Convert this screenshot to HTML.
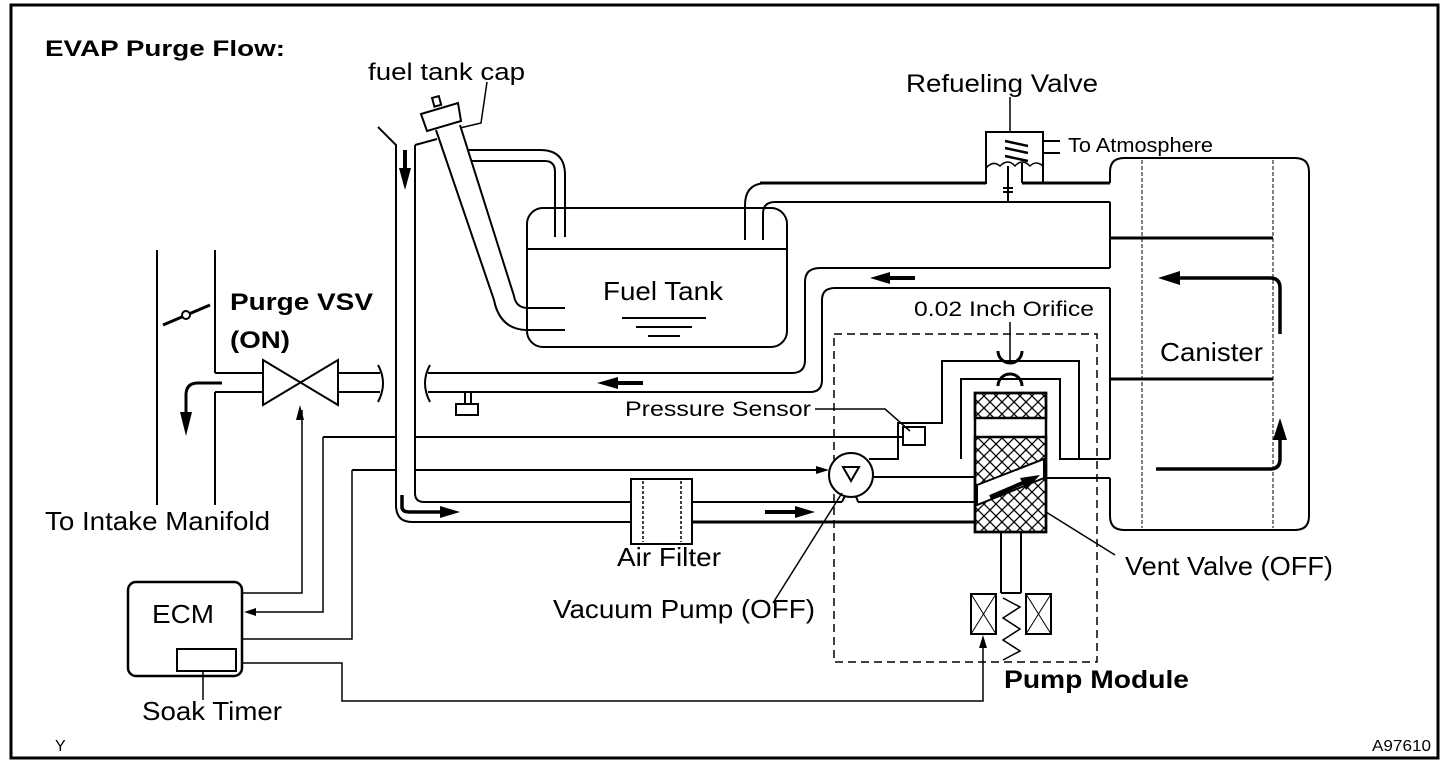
<!DOCTYPE html>
<html><head><meta charset="utf-8"><style>
html,body{margin:0;padding:0;background:#fff;}
svg{display:block;}
text{font-family:"Liberation Sans",sans-serif;fill:#000;}
</style></head><body>
<svg width="1456" height="772" viewBox="0 0 1456 772" xmlns="http://www.w3.org/2000/svg">
<rect x="0" y="0" width="1456" height="772" fill="#fff"/>
<rect x="11" y="5" width="1427" height="753" fill="none" stroke="#000" stroke-width="3"/>

<g fill="none" stroke="#000" stroke-width="2">
<line x1="157" y1="250" x2="157" y2="505"/>
<line x1="215" y1="250" x2="215" y2="373"/>
<line x1="215" y1="392" x2="215" y2="505"/>
<line x1="163" y1="325" x2="210" y2="305" stroke-width="3"/>
<circle cx="186" cy="315" r="4" fill="#fff"/>
<line x1="215" y1="373" x2="263" y2="373"/>
<line x1="215" y1="392" x2="263" y2="392"/>
<polygon points="263,360 338,405 338,360 263,405" fill="#fff"/>
<line x1="338" y1="373" x2="380" y2="373"/>
<line x1="338" y1="392" x2="380" y2="392"/>
<path d="M378,365 Q388,383 378,402"/>
<path d="M430,365 Q420,383 430,402"/>
<path d="M428,373 H792 Q805,373 805,360 V282 Q805,268 820,268 H1110"/>
<path d="M428,392 H810 Q822,392 822,380 V300 Q822,288 835,288 H1110"/>
<line x1="465" y1="392" x2="465" y2="404"/>
<line x1="471" y1="392" x2="471" y2="404"/>
<rect x="456" y="404" width="22" height="11"/>

<path d="M378,127 L396,145 V505 Q396,522 412,522 H631"/>
<path d="M415,145 L437,139"/>
<path d="M415,145 V493 Q415,502 424,502 H631"/>
<rect x="631" y="479" width="61" height="65" fill="#fff"/>
<line x1="643" y1="481" x2="643" y2="542" stroke-dasharray="3,2" stroke-width="1.5"/>
<line x1="681" y1="481" x2="681" y2="542" stroke-dasharray="3,2" stroke-width="1.5"/>
<line x1="692" y1="502" x2="842" y2="502"/>
<path d="M842,502 Q845,494 850,494"/>
<path d="M858,502 Q856,494 851,494"/>
<line x1="858" y1="502" x2="975" y2="502"/>
<line x1="692" y1="522" x2="975" y2="522" stroke-width="3"/>

<rect x="527" y="208" width="260" height="139" rx="16"/>
<line x1="527" y1="249" x2="787" y2="249"/>
<line x1="622" y1="318" x2="706" y2="318"/>
<line x1="636" y1="327" x2="692" y2="327"/>
<line x1="648" y1="336" x2="680" y2="336"/>
<path d="M565,237 V175 Q565,150 540,150 H467"/>
<path d="M555,237 V172 Q555,161 545,161 H472"/>
<path d="M745,240 V205 Q745,183 767,183 H986"/>
<path d="M763,240 V214 Q763,202 775,202 H1110"/>
<path d="M436,130 L494,300 Q500,330 528,330 H565"/>
<path d="M460,125 L514,296 Q516,308 528,308 H565"/>
<polygon points="421,114 458,103 461,121 427,131" fill="#fff"/>
<rect x="433" y="97" width="7" height="9" transform="rotate(-15 436 101)" fill="#fff"/>
<path d="M460,128 L481,123 L487,82" stroke-width="1.5"/>

<path d="M760,183 H986 V132 H1043 V182" stroke-width="2"/>
<line x1="760" y1="183" x2="986" y2="183" stroke-width="3"/>
<line x1="1022" y1="183" x2="1110" y2="183" stroke-width="3"/>
<line x1="1022" y1="163" x2="1022" y2="183"/>
<line x1="1010" y1="132" x2="1010" y2="97" stroke-width="1.5"/>
<line x1="1043" y1="141" x2="1060" y2="141"/>
<line x1="1043" y1="153" x2="1060" y2="153"/>
<line x1="1005" y1="141" x2="1028" y2="146" stroke-width="2.5"/>
<line x1="1005" y1="148" x2="1028" y2="153" stroke-width="2.5"/>
<line x1="1005" y1="156" x2="1028" y2="161" stroke-width="2.5"/>
<path d="M986,168 Q993,160 1000,166 Q1008,158 1015,166 Q1022,158 1030,166 Q1036,160 1043,166" stroke-width="1.5"/>
<line x1="1008" y1="166" x2="1008" y2="202"/>
<line x1="1003" y1="188" x2="1013" y2="188"/>
<line x1="1003" y1="192" x2="1013" y2="192"/>

<path d="M1110,183 V172 Q1110,158 1124,158 H1295 Q1309,158 1309,172 V516 Q1309,530 1295,530 H1124 Q1110,530 1110,516 V478"/>
<line x1="1110" y1="202" x2="1110" y2="268"/>
<line x1="1110" y1="288" x2="1110" y2="459"/>
<line x1="1142" y1="160" x2="1142" y2="528" stroke-dasharray="4,2" stroke-width="1"/>
<line x1="1273" y1="160" x2="1273" y2="528" stroke-dasharray="4,2" stroke-width="1"/>
<line x1="1110" y1="238" x2="1273" y2="238" stroke-width="3"/>
<line x1="1110" y1="379" x2="1273" y2="379" stroke-width="3"/>
<path d="M1280,334 V288 Q1280,278 1270,278 H1178" stroke-width="3.5"/>
<path d="M1156,469 H1270 Q1280,469 1280,459 V438" stroke-width="3.5"/>

<rect x="834" y="334" width="263" height="328" stroke-dasharray="8,5" stroke-width="1.5"/>
<path d="M873,477 H975"/>
<path d="M869,459 H898 V423 H942 V361 H1079 V459 H1110"/>
<path d="M961,459 V379 H1060 V459 H1079" />
<path d="M1046,478 H1110"/>
<path d="M998,351 A12,12 0 0 0 1022,351" stroke-width="3"/>
<line x1="1010" y1="322" x2="1010" y2="360" stroke-width="1.5"/>
<path d="M998,386 A12,12 0 0 1 1022,386" stroke-width="3"/>
<rect x="903" y="427" width="22" height="18"/>
<line x1="415" y1="437" x2="903" y2="437"/>
<line x1="323" y1="437" x2="396" y2="437"/>
<path d="M815,409 H885 L910,431" stroke-width="1.5"/>
<circle cx="851" cy="475" r="22" fill="#fff"/>
<polygon points="843,467 859,467 851,481"/>
<line x1="352" y1="470" x2="396" y2="470"/>
<line x1="415" y1="470" x2="820" y2="470"/>
<line x1="773" y1="603" x2="842" y2="493" stroke-width="1.5"/>
</g>

<defs>
<pattern id="hx" width="12" height="12" patternUnits="userSpaceOnUse">
<path d="M0,0 L12,12 M12,0 L0,12" stroke="#000" stroke-width="1.3"/>
</pattern>
</defs>
<rect x="975" y="393" width="71" height="25" fill="url(#hx)" stroke="#000" stroke-width="2.5"/>
<rect x="975" y="437" width="71" height="95" fill="url(#hx)" stroke="#000" stroke-width="2.5"/>
<polygon points="977,485 1044,459 1044,478 977,505" fill="#fff" stroke="#000" stroke-width="2"/>
<line x1="990" y1="497" x2="1025" y2="482" stroke="#000" stroke-width="4"/>
<polygon points="1040,475 1020,478 1026,490" fill="#000"/>
<rect x="975" y="393" width="71" height="139" fill="none" stroke="#000" stroke-width="2.5"/>
<g fill="none" stroke="#000" stroke-width="2">
<line x1="1001" y1="532" x2="1001" y2="593"/>
<line x1="1021" y1="532" x2="1021" y2="593"/>
<line x1="1001" y1="593" x2="1021" y2="593"/>
<rect x="971" y="594" width="25" height="40"/>
<path d="M971,594 L996,634 M996,594 L971,634" stroke-width="1"/>
<rect x="1026" y="594" width="25" height="40"/>
<path d="M1026,594 L1051,634 M1051,594 L1026,634" stroke-width="1"/>
<path d="M1003,598 L1020,607 L1003,618 L1020,629 L1003,640 L1020,651 L1003,660" stroke-width="1.5"/>
<line x1="1046" y1="512" x2="1115" y2="555" stroke-width="1.5"/>
<rect x="128" y="582" width="114" height="94" rx="8" stroke-width="2.5"/>
<rect x="177" y="649" width="59" height="22"/>
<line x1="203" y1="671" x2="203" y2="700" stroke-width="1.5"/>
<path d="M242,593 H302 V410" stroke-width="1.5"/>
<path d="M252,612 H323 V437" stroke-width="1.5"/>
<path d="M242,639 H352 V470" stroke-width="1.5"/>
<path d="M242,663 H342 V701 H983 V645" stroke-width="1.5"/>
<path d="M222,383 H198 Q186,383 186,395 V412" stroke-width="3"/>
</g>
<g fill="#000">
<polygon points="300,405 296,420 304,420"/>
<polygon points="244,612 256,608 256,616"/>
<polygon points="983,635 979,648 987,648"/>
<polygon points="829,470 816,466 816,474"/>
<polygon points="186,436 180,412 192,412"/>
<polygon points="405,190 399,168 411,168"/>
<rect x="403" y="150" width="4" height="20"/>
<path d="M402,495 V507 Q402,512 410,512 H440" stroke="#000" stroke-width="3.5" fill="none"/>
<polygon points="460,512 440,506 440,518"/>
<rect x="765" y="510" width="30" height="4"/>
<polygon points="815,512 795,506 795,518"/>
<rect x="618" y="381" width="25" height="4"/>
<polygon points="597,383 618,377 618,389"/>
<rect x="890" y="276" width="25" height="4"/>
<polygon points="870,278 890,272 890,284"/>
<polygon points="1158,278 1180,271 1180,285"/>
<polygon points="1280,418 1273,440 1287,440"/>
</g>

<g lengthAdjust="spacingAndGlyphs">
<text x="45" y="56" font-size="22" font-weight="bold" textLength="240" lengthAdjust="spacingAndGlyphs">EVAP Purge Flow:</text>
<text x="368" y="80" font-size="24" textLength="157" lengthAdjust="spacingAndGlyphs">fuel tank cap</text>
<text x="906" y="92" font-size="25" textLength="192" lengthAdjust="spacingAndGlyphs">Refueling Valve</text>
<text x="1068" y="152" font-size="20" textLength="145" lengthAdjust="spacingAndGlyphs">To Atmosphere</text>
<text x="603" y="300" font-size="26" textLength="120" lengthAdjust="spacingAndGlyphs">Fuel Tank</text>
<text x="230" y="310" font-size="24" font-weight="bold" textLength="143" lengthAdjust="spacingAndGlyphs">Purge VSV</text>
<text x="230" y="348" font-size="24" font-weight="bold" textLength="60" lengthAdjust="spacingAndGlyphs">(ON)</text>
<text x="914" y="316" font-size="21" textLength="180" lengthAdjust="spacingAndGlyphs">0.02 Inch Orifice</text>
<text x="1160" y="361" font-size="26" textLength="103" lengthAdjust="spacingAndGlyphs">Canister</text>
<text x="625" y="416" font-size="21" textLength="186" lengthAdjust="spacingAndGlyphs">Pressure Sensor</text>
<text x="45" y="530" font-size="26" textLength="225" lengthAdjust="spacingAndGlyphs">To Intake Manifold</text>
<text x="617" y="566" font-size="26" textLength="104" lengthAdjust="spacingAndGlyphs">Air Filter</text>
<text x="1125" y="575" font-size="26" textLength="208" lengthAdjust="spacingAndGlyphs">Vent Valve (OFF)</text>
<text x="553" y="618" font-size="26" textLength="262" lengthAdjust="spacingAndGlyphs">Vacuum Pump (OFF)</text>
<text x="152" y="623" font-size="26" textLength="62" lengthAdjust="spacingAndGlyphs">ECM</text>
<text x="1004" y="688" font-size="25" font-weight="bold" textLength="185" lengthAdjust="spacingAndGlyphs">Pump Module</text>
<text x="142" y="720" font-size="26" textLength="140" lengthAdjust="spacingAndGlyphs">Soak Timer</text>
<text x="55" y="751" font-size="16">Y</text>
<text x="1372" y="751" font-size="16" textLength="59" lengthAdjust="spacingAndGlyphs">A97610</text>
</g>
</svg>
</body></html>
